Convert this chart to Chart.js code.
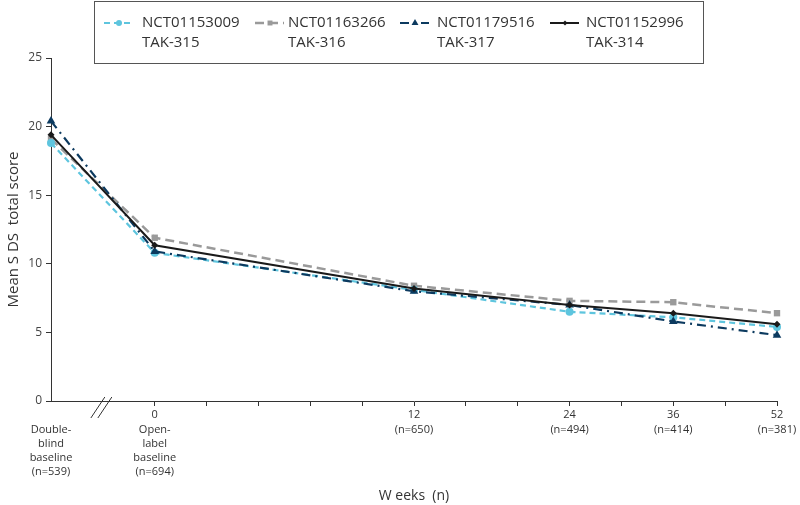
<!DOCTYPE html>
<html>
<head>
<meta charset="utf-8">
<script src="https://cdn.jsdelivr.net/npm/chart.js@4.4.1/dist/chart.umd.min.js"></script>
<style>
  html, body { margin: 0; padding: 0; background: #fff; }
  #wrap { width: 800px; height: 505px; }
</style>
</head>
<body>
<div id="wrap"><canvas id="sdsChart"></canvas></div>
<script>
// Time points and where they sit on the (non-linear) week axis
const timepoints = ['Double-blind baseline', '0', '12', '24', '36', '52'];
const axisSlots = [-2, 0, 5, 8, 10, 12];
const tickLabels = [
    ['', 'Double-', 'blind', 'baseline', '(n=539)'],
    ['0', 'Open-', 'label', 'baseline', '(n=694)'],
    ['12', '(n=650)'],
    ['24', '(n=494)'],
    ['36', '(n=414)'],
    ['52', '(n=381)']
];
const yTicks = [0, 5, 10, 15, 20, 25];

const studyIds = ['NCT01153009', 'NCT01163266', 'NCT01179516', 'NCT01152996'];
const studyNames = ['TAK-315', 'TAK-316', 'TAK-317', 'TAK-314'];

// Mean SDS total score
const tak315 = [18.8, 10.8, 8.1, 6.5, 6.1, 5.4];
const tak316 = [19.1, 11.9, 8.4, 7.3, 7.2, 6.4];
const tak317 = [20.4, 10.9, 8.0, 7.0, 5.8, 4.8];
const tak314 = [19.4, 11.35, 8.2, 7.0, 6.4, 5.6];

const FONT = '"Open Sans", "Noto Sans", sans-serif';

function toPoints(values) {
    return values.map((v, i) => ({ x: axisSlots[i], y: v }));
}

// legend box drawn at the top, two-line labels
const boxLegend = {
    id: 'boxLegend',
    afterDraw(chart) {
        const ctx = chart.ctx;
        const lineX = [104, 255, 400, 550];
        const textX = [142, 288, 437, 586];
        ctx.save();
        ctx.strokeStyle = '#555';
        ctx.lineWidth = 1;
        ctx.strokeRect(94.5, 1.5, 609, 62);
        chart.data.datasets.forEach((ds, i) => {
            const y = 23;
            ctx.strokeStyle = ds.borderColor;
            ctx.lineWidth = ds.borderWidth;
            ctx.setLineDash(ds.borderDash || []);
            ctx.beginPath();
            ctx.moveTo(lineX[i], y);
            ctx.lineTo(lineX[i] + 29, y);
            ctx.stroke();
            ctx.setLineDash([]);
            ctx.fillStyle = ds.borderColor;
            Chart.helpers.drawPoint(ctx, {
                pointStyle: ds.pointStyle, radius: ds.pointRadius - 1, rotation: 0, borderWidth: 0
            }, lineX[i] + 15, y);
            ctx.fillStyle = '#333';
            ctx.font = '15px ' + FONT;
            ctx.textBaseline = 'middle';
            ctx.textAlign = 'left';
            ctx.fillText(studyIds[i], textX[i], 23);
            ctx.fillText(studyNames[i], textX[i], 43);
        });
        ctx.restore();
    }
};

// the // break mark on the x axis between the two baselines
const axisBreak = {
    id: 'axisBreak',
    afterDraw(chart) {
        const xs = chart.scales.x;
        const cx = xs.getPixelForValue(-1);
        const yb = chart.chartArea.bottom;
        const ctx = chart.ctx;
        ctx.save();
        ctx.strokeStyle = '#333';
        ctx.lineWidth = 1;
        [0, 7].forEach(off => {
            ctx.beginPath();
            ctx.moveTo(cx - 12 + off, yb + 17);
            ctx.lineTo(cx + 2 + off, yb - 4);
            ctx.stroke();
        });
        ctx.restore();
    }
};

new Chart(document.getElementById('sdsChart'), {
    type: 'line',
    data: {
        datasets: [{
            label: studyIds[0] + ' ' + studyNames[0],
            data: toPoints(tak315),
            borderColor: '#5ec5de',
            backgroundColor: '#5ec5de',
            borderWidth: 2.2,
            borderDash: [6, 4],
            pointStyle: 'circle',
            pointRadius: 4,
            pointBorderWidth: 0,
            order: 2,
            clip: false
        }, {
            label: studyIds[1] + ' ' + studyNames[1],
            data: toPoints(tak316),
            borderColor: '#9a9a9a',
            backgroundColor: '#9a9a9a',
            borderWidth: 2.5,
            borderDash: [9, 5],
            pointStyle: 'rect',
            pointRadius: 4.5,
            pointBorderWidth: 0,
            order: 3,
            clip: false
        }, {
            label: studyIds[2] + ' ' + studyNames[2],
            data: toPoints(tak317),
            borderColor: '#0c3a5f',
            backgroundColor: '#0c3a5f',
            borderWidth: 2.2,
            borderDash: [9, 5, 2, 5],
            pointStyle: 'triangle',
            pointRadius: 5,
            pointBorderWidth: 0,
            order: 1,
            clip: false
        }, {
            label: studyIds[3] + ' ' + studyNames[3],
            data: toPoints(tak314),
            borderColor: '#1a1a1a',
            backgroundColor: '#1a1a1a',
            borderWidth: 2,
            pointStyle: 'rectRot',
            pointRadius: 3.5,
            pointBorderWidth: 0,
            order: 0,
            clip: false
        }]
    },
    options: {
        responsive: true,
        maintainAspectRatio: false,
        animation: false,
        layout: { padding: { top: 58, right: 23, left: 0, bottom: 0 } },
        plugins: {
            legend: { display: false },
            tooltip: { enabled: false }
        },
        scales: {
            x: {
                type: 'linear',
                min: -2,
                max: 12,
                afterBuildTicks: s => {
                    s.ticks = [];
                    for (let v = -2; v <= 12; v++) s.ticks.push({ value: v });
                },
                afterFit: s => { s.height = 104; },
                border: { color: '#333', width: 1 },
                grid: {
                    drawOnChartArea: false,
                    tickLength: 5,
                    color: c => (c.tick && c.tick.value < 0) ? 'rgba(0,0,0,0)' : '#333'
                },
                ticks: {
                    autoSkip: false,
                    maxRotation: 0,
                    padding: 2,
                    color: '#333',
                    font: { family: FONT, size: 11, lineHeight: 1.3 },
                    callback: v => {
                        const i = axisSlots.indexOf(v);
                        return i < 0 ? '' : tickLabels[i];
                    }
                },
                title: {
                    display: true,
                    text: 'W eeks  (n)',
                    color: '#333',
                    font: { family: FONT, size: 14 },
                    padding: { top: 0, bottom: 1 }
                }
            },
            y: {
                min: 0,
                max: 25,
                afterBuildTicks: s => { s.ticks = yTicks.map(v => ({ value: v })); },
                afterFit: s => { s.width = 51; },
                border: { color: '#333', width: 1 },
                grid: { drawOnChartArea: false, tickLength: 5, color: '#333' },
                ticks: {
                    padding: 4,
                    color: '#444',
                    font: { family: FONT, size: 12 }
                },
                title: {
                    display: true,
                    text: 'Mean S DS  total score',
                    color: '#333',
                    font: { family: FONT, size: 15 },
                    padding: { top: 5, bottom: 0 }
                }
            }
        }
    },
    plugins: [boxLegend, axisBreak]
});
</script>
</body>
</html>
